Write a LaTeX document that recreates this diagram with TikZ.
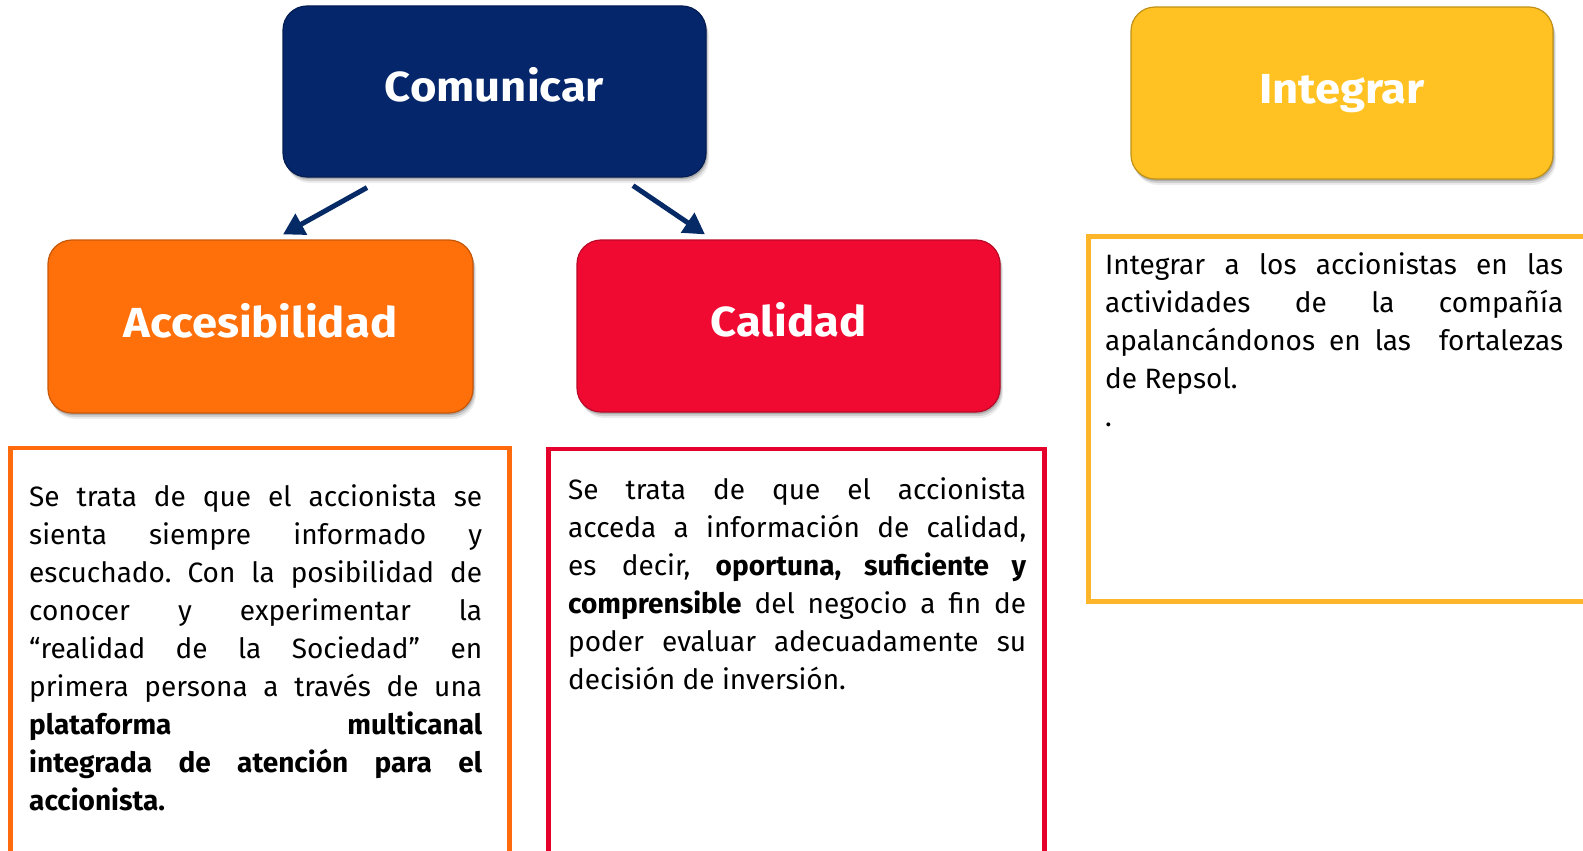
\documentclass[tikz,border=0pt]{standalone}
\usepackage{fontspec}
\setmainfont{Fira Sans}
\newfontfamily\titlefont{Fira Sans}[FakeStretch=1.08]
\usetikzlibrary{arrows.meta,shadows,calc}
\definecolor{navy}{HTML}{05266A}
\definecolor{orangefill}{HTML}{FF6F0A}
\definecolor{redfill}{HTML}{F00A32}
\definecolor{yellowfill}{HTML}{FFC222}
\definecolor{orangeline}{HTML}{FF6A0C}
\definecolor{redline}{HTML}{E4002B}
\definecolor{yellowline}{HTML}{FDB52A}
\definecolor{arrowcol}{HTML}{062A66}
\tikzset{
  topbox/.style={rounded corners=24pt, inner sep=0pt, minimum width=423pt, minimum height=171pt,
    line width=1.2pt,
    drop shadow={shadow xshift=1pt, shadow yshift=-2pt, opacity=0.18, fill=black},
    drop shadow={shadow xshift=2pt, shadow yshift=-4pt, opacity=0.12, fill=black},
    drop shadow={shadow xshift=3pt, shadow yshift=-6pt, opacity=0.07, fill=black}},
  titletext/.style={anchor=base, inner sep=0pt, text=white, font=\fontsize{42}{48}\titlefont\bfseries},
  textbox/.style={draw, line width=4.8pt, inner sep=0pt},
  bodytext/.style={anchor=base west, inner sep=0pt, text=black},
  arr/.style={draw=arrowcol, line width=5pt, -{Triangle[length=21pt,width=23pt]}}
}
\newcommand{\bodyfmt}{\fontsize{28}{38}\selectfont\frenchspacing\tolerance=10000\hyphenpenalty=10000\exhyphenpenalty=10000\rightskip=0pt}
\begin{document}
\begin{tikzpicture}[x=1pt,y=-1pt]
\useasboundingbox (0,0) rectangle (1583,851);
% top boxes
\node[topbox, fill=navy, draw=navy!80!black] (com) at (494.5,91.5) {};
\node[topbox, fill=yellowfill, draw=yellowfill!75!black, minimum width=422pt, minimum height=172pt] (integ) at (1342,93) {};
\node[topbox, fill=orangefill, draw=orangefill!78!black, minimum width=425pt, minimum height=173pt] (acc) at (260.5,326.5) {};
\node[topbox, fill=redfill, draw=redfill!78!black, minimum height=172pt] (cal) at (788.5,326) {};
% titles
\node[titletext] (comt) at ($(com.center)+(0,10.5)$) {Comunicar};
\node[titletext] (integt) at ($(integ.center)+(0,10.5)$) {Integrar};
\node[titletext] (acct) at ($(acc.center)+(0,10.5)$) {Accesibilidad};
\node[titletext] (calt) at ($(cal.center)+(0,10.5)$) {Calidad};
% arrows
\draw[arr] ([xshift=-127.5pt,yshift=-10pt]com.south) -- ([xshift=22.5pt,yshift=5pt]acc.north);
\draw[arr] ([xshift=138.5pt,yshift=-8pt]com.south) -- ([xshift=-83.5pt,yshift=5pt]cal.north);
% text boxes
\node[textbox, draw=orangeline, minimum width=499pt, minimum height=412pt] (accbox) at (260,654) {};
\node[textbox, draw=redline, minimum width=496pt, minimum height=411pt] (calbox) at (796.5,654.5) {};
\node[textbox, draw=yellowline, minimum width=502pt, minimum height=365pt] (integbox) at (1339.5,419) {};
% body texts
\node[bodytext] (acctext) at (29,506) {\parbox[t]{453pt}{\bodyfmt
Se trata de que el accionista se\linebreak
sienta siempre informado y\linebreak
escuchado. Con la posibilidad de\linebreak
conocer y experimentar la\linebreak
“realidad de la Sociedad” en\linebreak
primera persona a través de una\linebreak
\textbf{plataforma multicanal\linebreak
integrada de atención para el\linebreak
accionista.}}};
\node[bodytext] (caltext) at (568,499) {\parbox[t]{458pt}{\bodyfmt
Se trata de que el accionista\linebreak
acceda a información de calidad,\linebreak
es decir, \textbf{oportuna, suficiente y\linebreak
comprensible} del negocio a fin de\linebreak
poder evaluar adecuadamente su\linebreak
decisión de inversión.}};
\node[bodytext] (integtext) at (1105,274) {\parbox[t]{458pt}{\bodyfmt
Integrar a los accionistas en las\linebreak
actividades de la compañía\linebreak
apalancándonos en las~\ fortalezas\linebreak
de Repsol.\par
.}};
\end{tikzpicture}
\end{document}
